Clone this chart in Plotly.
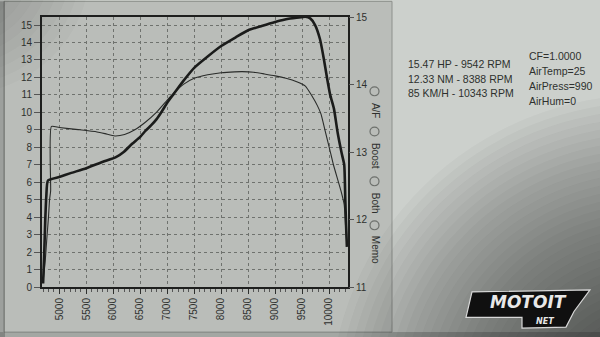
import plotly.graph_objects as go

# ---------------- data ----------------
rpm_hp = [4700, 4720, 4740, 4760, 4790, 5000, 5210, 5500, 5810, 6050, 6200, 6350, 6500, 6600, 6700, 6800,
          6900, 7000, 7120, 7300, 7500, 7750, 8000, 8270, 8500, 8750, 9000, 9250, 9500, 9560,
          9650, 9740, 9830, 9900, 9960, 10020, 10090, 10160, 10230, 10280, 10300, 10315, 10330]
hp = [0.2, 1.8, 3.8, 5.2, 6.1, 6.3, 6.52, 6.8, 7.17, 7.44, 7.75, 8.2, 8.6, 8.95, 9.25, 9.6,
      10.05, 10.55, 11.05, 11.8, 12.55, 13.2, 13.8, 14.3, 14.7, 14.95, 15.18, 15.36, 15.45, 15.47,
      15.38, 15.0, 14.2, 13.1, 12.0, 11.0, 10.2, 8.8, 7.7, 7.0, 5.0, 3.5, 2.3]

rpm_tq = [4700, 4740, 4770, 4800, 4820, 4840, 4855, 5000, 5350, 5700, 5850, 6030, 6210,
          6400, 6600, 6800, 7000, 7120, 7300, 7500, 7750, 8000, 8250, 8390, 8600, 8800,
          9000, 9200, 9400, 9560, 9680, 9780, 9850, 9930, 10010, 10080, 10220, 10280, 10305, 10330]
torque = [0.3, 1.5, 2.8, 4.0, 5.0, 5.5, 9.2, 9.13, 9.01, 8.88, 8.78, 8.65, 8.73,
          9.0, 9.45, 10.0, 10.7, 11.1, 11.6, 11.95, 12.15, 12.27, 12.32, 12.33, 12.3, 12.2,
          12.09, 11.95, 11.75, 11.5, 10.95, 10.4, 9.9, 8.9, 7.9, 7.0, 5.5, 4.7, 3.5, 2.3]

x_ticks = [5000, 5500, 6000, 6500, 7000, 7500, 8000, 8500, 9000, 9500, 10000]
x_tick_text = ["5000", "5500", "6000", "6500", "7000", "7500", "8000", "8500", "9000", "9500", "10000"]
left_ticks = list(range(0, 16))
right_ticks = [11, 12, 13, 14, 15]

summary_lines = ["15.47 HP - 9542 RPM", "12.33 NM - 8388 RPM", "85 KM/H - 10343 RPM"]
cond_lines = ["CF=1.0000", "AirTemp=25", "AirPress=990", "AirHum=0"]
radio_labels = ["A/F", "Boost", "Both", "Memo"]

# ---------------- layout helpers ----------------
W, H = 600, 337
L, R, T, B = 42, 252, 11, 50
PW, PH = W - L - R, H - T - B

def px(xp):
    return (xp - L) / PW

def py(yp):
    return (H - B - yp) / PH

ink = "#2e302e"
font = "Liberation Sans, Arial, sans-serif"

fig = go.Figure()
fig.add_trace(go.Scatter(x=rpm_tq, y=torque, mode="lines",
                         line=dict(color="#2a2c2a", width=1.1, shape="spline", smoothing=0.5),
                         showlegend=False))
fig.add_trace(go.Scatter(x=rpm_hp, y=hp, mode="lines",
                         line=dict(color="#1b1c1b", width=2.6, shape="spline", smoothing=0.5),
                         showlegend=False))
fig.add_trace(go.Scatter(x=[None], y=[None], yaxis="y2", showlegend=False))

shapes = []
# printout paper
shapes.append(dict(type="rect", xref="paper", yref="paper", layer="below",
                   x0=px(4), x1=px(392), y0=py(333), y1=py(-5),
                   fillcolor="#babdb9", line=dict(color="#8d908c", width=1)))
# bottom strip below paper
shapes.append(dict(type="rect", xref="paper", yref="paper", layer="below",
                   x0=px(-10), x1=px(610), y0=py(345), y1=py(333),
                   fillcolor="rgba(70,72,70,0.30)", line=dict(width=0)))
# left darker edge
shapes.append(dict(type="rect", xref="paper", yref="paper", layer="below",
                   x0=px(-10), x1=px(5), y0=py(345), y1=py(-5),
                   fillcolor="rgba(70,72,70,0.35)", line=dict(width=0)))
# radial vignette bottom-right (many soft concentric circles)
cx, cy = 650, 410
for r in range(320, 30, -8):
    shapes.append(dict(type="circle", xref="paper", yref="paper", layer="below",
                       x0=px(cx - r), x1=px(cx + r), y0=py(cy + r), y1=py(cy - r),
                       fillcolor="rgba(30,32,30,0.03)", line=dict(width=0)))
# top-left corner darkening
for r in range(130, 20, -10):
    shapes.append(dict(type="circle", xref="paper", yref="paper", layer="below",
                       x0=px(-40 - r), x1=px(-40 + r), y0=py(-40 + r), y1=py(-40 - r),
                       fillcolor="rgba(30,32,30,0.025)", line=dict(width=0)))

# radio buttons
radio_circle_y = [87, 128, 179, 224]
radio_text_y = [107, 153, 201, 249]
for ry in radio_circle_y:
    shapes.append(dict(type="circle", xref="paper", yref="paper",
                       x0=px(370), x1=px(379), y0=py(ry + 4.5), y1=py(ry - 4.5),
                       line=dict(color="#6d706c", width=1.2)))

# logo background
shapes.append(dict(type="path", xref="paper", yref="paper",
                   path=f"M {px(466)},{py(318)} L {px(472)},{py(292)} L {px(590)},{py(290)} "
                        f"L {px(574)},{py(312)} L {px(566)},{py(328)} L {px(522)},{py(329)} L {px(522)},{py(318)} Z",
                   fillcolor="#101010", line=dict(color="#d8d8d8", width=1.2)))

annotations = []
for i, t in enumerate(summary_lines):
    annotations.append(dict(xref="paper", yref="paper", x=px(406), y=py(59 + 15 * i),
                            xanchor="left", yanchor="middle", text=t, showarrow=False,
                            font=dict(family=font, size=10.5, color=ink)))
for i, t in enumerate(cond_lines):
    annotations.append(dict(xref="paper", yref="paper", x=px(527), y=py(51 + 15.3 * i),
                            xanchor="left", yanchor="middle", text=t, showarrow=False,
                            font=dict(family=font, size=10.5, color=ink)))
for t, ty in zip(radio_labels, radio_text_y):
    annotations.append(dict(xref="paper", yref="paper", x=px(375), y=py(ty),
                            xanchor="center", yanchor="middle", text=t, showarrow=False,
                            textangle=90, font=dict(family=font, size=10, color=ink)))
annotations.append(dict(xref="paper", yref="paper", x=px(528), y=py(302),
                        xanchor="center", yanchor="middle", showarrow=False,
                        text="<b><i>MOTOIT</i></b>",
                        font=dict(family="DejaVu Sans", size=17, color="#e8e8e8")))
annotations.append(dict(xref="paper", yref="paper", x=px(545), y=py(322),
                        xanchor="center", yanchor="middle", showarrow=False,
                        text="<b><i>NET</i></b>",
                        font=dict(family="DejaVu Sans", size=8, color="#e8e8e8")))

axis_font = dict(family=font, size=10, color=ink)
fig.update_layout(
    width=W, height=H,
    margin=dict(l=L, r=R, t=T, b=B, pad=0),
    paper_bgcolor="#ccd0cc",
    plot_bgcolor="#c3c6c2",
    showlegend=False,
    shapes=shapes,
    annotations=annotations,
    xaxis=dict(range=[4680, 10350], tickvals=x_ticks, ticktext=x_tick_text, tickangle=-90,
               tickfont=axis_font, ticks="outside", ticklen=5, tickcolor=ink,
               showgrid=True, gridcolor="#6f726e", griddash="3px,3px", gridwidth=1,
               showline=True, linecolor="#1e1f1e", linewidth=2, mirror=True,
               zeroline=False,
               minor=dict(dtick=100, ticks="outside", ticklen=3, tickcolor="#555"),
               fixedrange=True),
    yaxis=dict(range=[0, 15.46], tickvals=left_ticks, tickfont=axis_font,
               ticks="outside", ticklen=6, tickcolor="#555",
               showgrid=True, gridcolor="#6f726e", griddash="3px,3px", gridwidth=1,
               showline=True, linecolor="#1e1f1e", linewidth=2, mirror=True,
               zeroline=False, fixedrange=True),
    yaxis2=dict(range=[11, 15], tickvals=right_ticks, overlaying="y", side="right",
                tickfont=axis_font, ticks="outside", ticklen=5, tickcolor="#555",
                showgrid=False, zeroline=False, showline=False, fixedrange=True),
)

fig.write_html("out.html")
